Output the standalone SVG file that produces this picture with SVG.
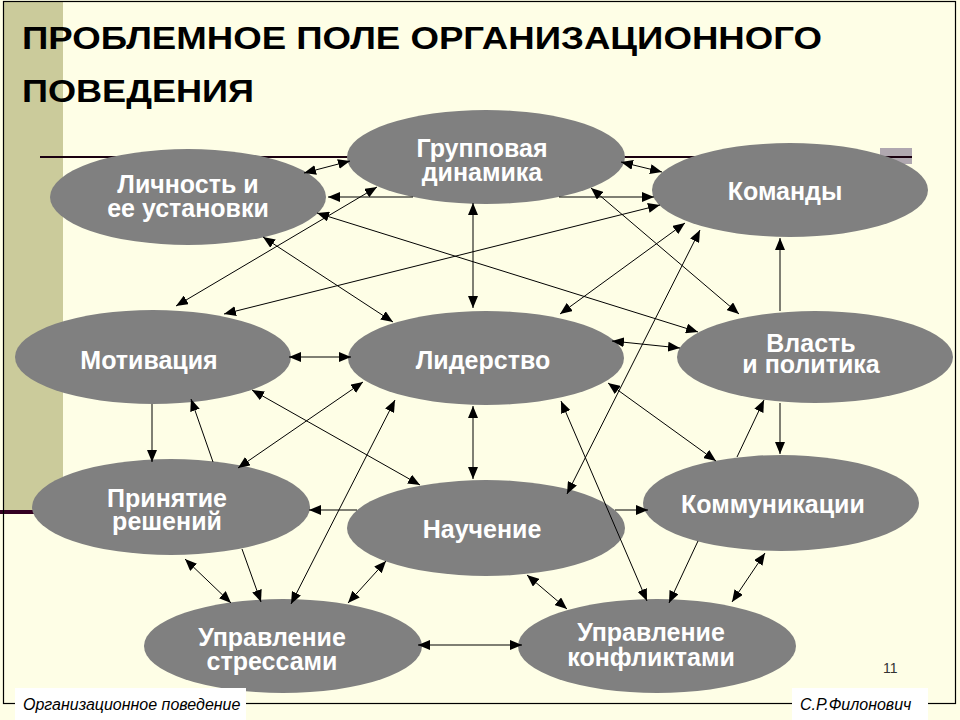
<svg xmlns="http://www.w3.org/2000/svg" width="960" height="720" viewBox="0 0 960 720">
<defs>
<style>
.node ellipse{fill:#808080}
.node text{font-family:"Liberation Sans",Arial,sans-serif;font-weight:bold;font-size:25px;fill:#ffffff;text-anchor:middle}
.c line{stroke:#000;stroke-width:1}
.c .b{marker-start:url(#ah);marker-end:url(#ah)}
.c .e{marker-end:url(#ah)}
.foot{font-family:"Liberation Sans",Arial,sans-serif;font-style:italic;font-size:16px;fill:#000}
</style>
<marker id="ah" viewBox="0 0 12 10" refX="12" refY="5" markerWidth="12" markerHeight="10" markerUnits="userSpaceOnUse" orient="auto-start-reverse"><path d="M0,0 L12,5 L0,10 z" fill="#000"/></marker>
</defs>
<rect x="0" y="0" width="960" height="720" fill="#FEFEE6"/>
<rect x="3" y="1" width="60" height="510" fill="#CBCB9B"/>
<rect x="0" y="510" width="34" height="4" fill="#330022"/>
<rect x="3.5" y="1.5" width="952" height="702" fill="none" stroke="#000" stroke-width="1.2"/>
<rect x="880" y="148" width="32" height="16" fill="#B0A8B0"/>
<line x1="40" y1="157" x2="912" y2="157" stroke="#1A0010" stroke-width="2"/>
<text x="22" y="49" font-family="'Liberation Sans',Arial,sans-serif" font-weight="bold" font-size="31" textLength="800" lengthAdjust="spacingAndGlyphs">ПРОБЛЕМНОЕ ПОЛЕ ОРГАНИЗАЦИОННОГО</text>
<text x="22" y="102" font-family="'Liberation Sans',Arial,sans-serif" font-weight="bold" font-size="31" textLength="232" lengthAdjust="spacingAndGlyphs">ПОВЕДЕНИЯ</text>

<g id="n-group" class="node"><ellipse cx="486" cy="157" rx="139" ry="47"/><text x="482" y="157">Групповая</text><text x="482" y="181">динамика</text></g>
<g id="n-personality" class="node"><ellipse cx="188" cy="197" rx="138" ry="48"/><text x="188" y="193">Личность и</text><text x="188" y="217">ее установки</text></g>
<g id="n-teams" class="node"><ellipse cx="790" cy="190" rx="138" ry="47"/><text x="785" y="200">Команды</text></g>
<g id="n-motivation" class="node"><ellipse cx="153" cy="357" rx="138" ry="47"/><text x="149" y="369">Мотивация</text></g>
<g id="n-leadership" class="node"><ellipse cx="486" cy="358" rx="138" ry="47"/><text x="483" y="369">Лидерство</text></g>
<g id="n-power" class="node"><ellipse cx="815" cy="357" rx="138" ry="46"/><text x="811" y="352">Власть</text><text x="811" y="373">и политика</text></g>
<g id="n-decision" class="node"><ellipse cx="171" cy="507" rx="139" ry="48"/><text x="167" y="507">Принятие</text><text x="167" y="530">решений</text></g>
<g id="n-learning" class="node"><ellipse cx="486" cy="528" rx="139" ry="48"/><text x="482" y="538">Научение</text></g>
<g id="n-communication" class="node"><ellipse cx="781" cy="503" rx="138" ry="48"/><text x="773" y="513">Коммуникации</text></g>
<g id="n-stress" class="node"><ellipse cx="283" cy="646" rx="139" ry="47"/><text x="272" y="646">Управление</text><text x="272" y="670">стрессами</text></g>
<g id="n-conflict" class="node"><ellipse cx="657" cy="646" rx="139" ry="47"/><text x="651" y="641">Управление</text><text x="651" y="666">конфликтами</text></g>

<g id="connectors" class="c">
<line class="b" x1="350" y1="161" x2="304" y2="173"/>
<line class="e" x1="413" y1="197" x2="328" y2="197"/>
<line class="e" x1="559" y1="197" x2="654" y2="197"/>
<line class="b" x1="621" y1="162" x2="662" y2="172"/>
<line class="b" x1="473" y1="203" x2="473" y2="308"/>
<line class="b" x1="377" y1="187" x2="176" y2="306"/>
<line class="b" x1="317" y1="213" x2="698" y2="332"/>
<line class="b" x1="263" y1="237" x2="393" y2="322"/>
<line class="b" x1="224" y1="314" x2="660" y2="205"/>
<line class="b" x1="591" y1="188" x2="739" y2="314"/>
<line class="b" x1="560" y1="314" x2="685" y2="223"/>
<line class="b" x1="700" y1="230" x2="567" y2="494"/>
<line class="e" x1="780" y1="311" x2="780" y2="238"/>
<line class="e" x1="780" y1="403" x2="780" y2="454"/>
<line class="b" x1="612" y1="341" x2="680" y2="348"/>
<line class="b" x1="289" y1="357" x2="351" y2="357"/>
<line class="e" x1="152" y1="404" x2="152" y2="462"/>
<line class="e" x1="213" y1="462" x2="191" y2="399"/>
<line class="b" x1="252" y1="390" x2="420" y2="485"/>
<line class="b" x1="238" y1="468" x2="363" y2="382"/>
<line class="b" x1="395" y1="400" x2="291" y2="604"/>
<line class="e" x1="357" y1="510" x2="309" y2="510"/>
<line class="b" x1="473" y1="406" x2="473" y2="479"/>
<line class="e" x1="615" y1="510" x2="648" y2="510"/>
<line class="b" x1="608" y1="383" x2="716" y2="461"/>
<line class="e" x1="737" y1="457" x2="764" y2="400"/>
<line class="b" x1="561" y1="401" x2="647" y2="601"/>
<line class="e" x1="698" y1="541" x2="669" y2="603"/>
<line class="b" x1="765" y1="553" x2="732" y2="602"/>
<line class="b" x1="527" y1="575" x2="567" y2="609"/>
<line class="b" x1="386" y1="561" x2="348" y2="603"/>
<line class="b" x1="418" y1="645" x2="522" y2="645"/>
<line class="b" x1="185" y1="559" x2="231" y2="603"/>
<line class="e" x1="242" y1="549" x2="261" y2="602"/>
</g>

<text x="883" y="673" font-family="'Liberation Sans',Arial,sans-serif" font-size="14" fill="#333">11</text>
<rect x="15" y="688" width="231" height="32" fill="#ffffff"/>
<text class="foot" x="23" y="710">Организационное поведение</text>
<rect x="792" y="688" width="136" height="32" fill="#ffffff"/>
<text class="foot" x="800" y="710">С.Р.Филонович</text>
</svg>
